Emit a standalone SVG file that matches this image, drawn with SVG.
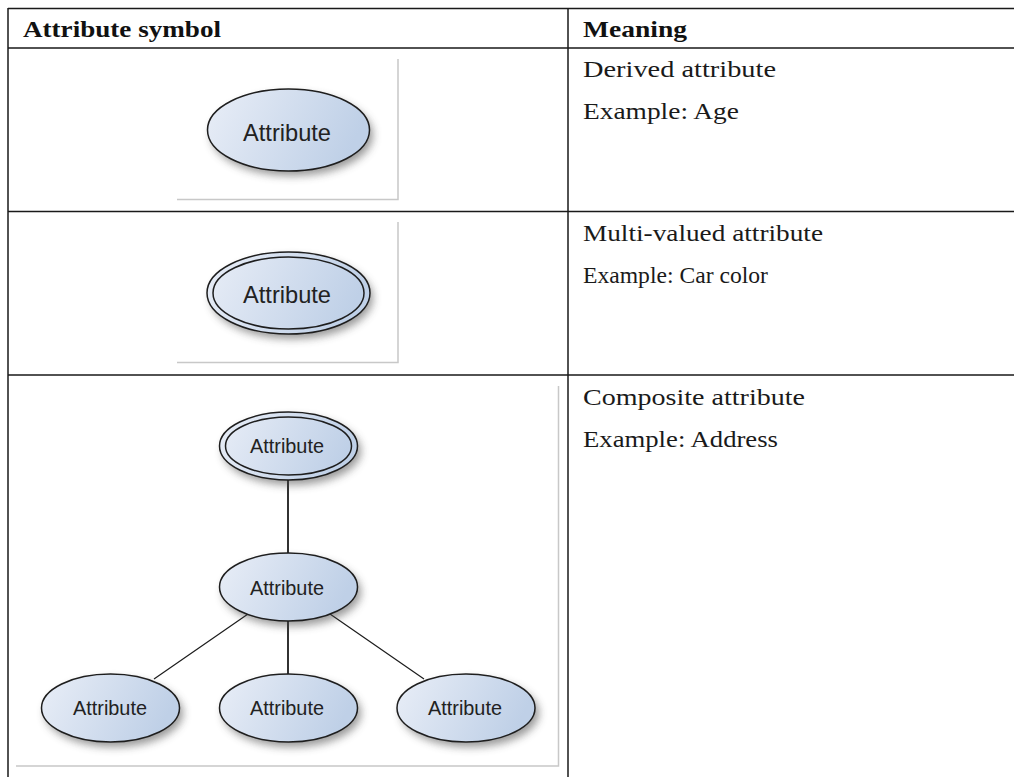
<svg xmlns="http://www.w3.org/2000/svg" width="1014" height="777" viewBox="0 0 1014 777">
<style>
.rule{stroke:#1a1a1a;stroke-width:1.5;fill:none}
.frame{stroke:#c8c8c8;stroke-width:1.5;fill:none}
.edge{stroke:#1c1c1c;fill:none}
.shape{fill:url(#g);stroke:#1e1e1e;stroke-width:1.5}
.ring{fill:none;stroke:#1e1e1e;stroke-width:1.5}
.shadow{fill:#444;opacity:.55;filter:url(#b)}
.head{font:bold 23px "Liberation Serif",serif;fill:#111}
.body{font:23.5px "Liberation Serif",serif;fill:#1a1a1a}
.big{font:24px "Liberation Sans",Arial,sans-serif;fill:#222;text-anchor:middle}
.small{font:21px "Liberation Sans",Arial,sans-serif;fill:#222;text-anchor:middle}
</style>
<defs>
<linearGradient id="g" x1="0" y1="0" x2="1" y2="0.25">
<stop offset="0" stop-color="#e9eef7"/><stop offset="1" stop-color="#bfd0e7"/>
</linearGradient>
<filter id="b" x="-20%" y="-20%" width="140%" height="140%"><feGaussianBlur stdDeviation="4"/></filter>
</defs>
<rect width="1014" height="777" fill="#fff"/>
<g id="table">
<path class="rule" d="M8 8.500H1014M8 48H1014M8 211.500H1014M8 375H1014M8 8V777M568 8V777"/>
<text class="head" x="23" y="37" textLength="198" lengthAdjust="spacingAndGlyphs">Attribute symbol</text>
<text class="head" x="583" y="37" textLength="104" lengthAdjust="spacingAndGlyphs">Meaning</text>
<text class="body" x="583" y="77" textLength="193" lengthAdjust="spacingAndGlyphs">Derived attribute</text>
<text class="body" x="583" y="119" textLength="156" lengthAdjust="spacingAndGlyphs">Example: Age</text>
<text class="body" x="583" y="241" textLength="240" lengthAdjust="spacingAndGlyphs">Multi-valued attribute</text>
<text class="body" x="583" y="283" textLength="185" lengthAdjust="spacingAndGlyphs">Example: Car color</text>
<text class="body" x="583" y="405" textLength="222" lengthAdjust="spacingAndGlyphs">Composite attribute</text>
<text class="body" x="583" y="447" textLength="195" lengthAdjust="spacingAndGlyphs">Example: Address</text>
</g>
<g id="frames">
<path class="frame" d="M398 59V199.500H177"/>
<path class="frame" d="M398 222V362.500H177"/>
<path class="frame" d="M558.500 386V766H16"/>
</g>
<g id="connectors">
<path class="edge" stroke-width="1.8" d="M288 478V555M288 619V702"/>
<path class="edge" stroke-width="1.2" d="M248 614L154 679M330 614L424 679"/>
</g>
<g id="derived">
<ellipse class="shadow" cx="292" cy="135" rx="81" ry="41"/>
<ellipse class="shape" cx="288.500" cy="130" rx="81" ry="41"/>
<text class="big" x="287" y="141" textLength="88" lengthAdjust="spacingAndGlyphs">Attribute</text>
</g>
<g id="multivalued">
<ellipse class="shadow" cx="292" cy="298" rx="81" ry="41"/>
<ellipse class="shape" cx="288.500" cy="293" rx="81.500" ry="41"/>
<ellipse class="ring" cx="288.500" cy="293" rx="75.500" ry="36"/>
<text class="big" x="287" y="303" textLength="88" lengthAdjust="spacingAndGlyphs">Attribute</text>
</g>
<g id="composite-top">
<ellipse class="shadow" cx="292" cy="451" rx="69" ry="34"/>
<ellipse class="shape" cx="288.500" cy="446" rx="69" ry="34"/>
<ellipse class="ring" cx="288.500" cy="446" rx="63" ry="29"/>
<text class="small" x="287" y="453" textLength="74" lengthAdjust="spacingAndGlyphs">Attribute</text>
</g>
<g id="composite-mid">
<ellipse class="shadow" cx="292" cy="592" rx="69" ry="34"/>
<ellipse class="shape" cx="288.500" cy="587" rx="69" ry="34"/>
<text class="small" x="287" y="595" textLength="74" lengthAdjust="spacingAndGlyphs">Attribute</text>
</g>
<g id="composite-left">
<ellipse class="shadow" cx="114" cy="713" rx="69" ry="34"/>
<ellipse class="shape" cx="110.500" cy="708" rx="69" ry="34"/>
<text class="small" x="110" y="715" textLength="74" lengthAdjust="spacingAndGlyphs">Attribute</text>
</g>
<g id="composite-center">
<ellipse class="shadow" cx="292" cy="713" rx="69" ry="34"/>
<ellipse class="shape" cx="288.500" cy="708" rx="69" ry="34"/>
<text class="small" x="287" y="715" textLength="74" lengthAdjust="spacingAndGlyphs">Attribute</text>
</g>
<g id="composite-right">
<ellipse class="shadow" cx="470" cy="713" rx="69" ry="34"/>
<ellipse class="shape" cx="466" cy="708" rx="69" ry="34"/>
<text class="small" x="465" y="715" textLength="74" lengthAdjust="spacingAndGlyphs">Attribute</text>
</g>
</svg>
